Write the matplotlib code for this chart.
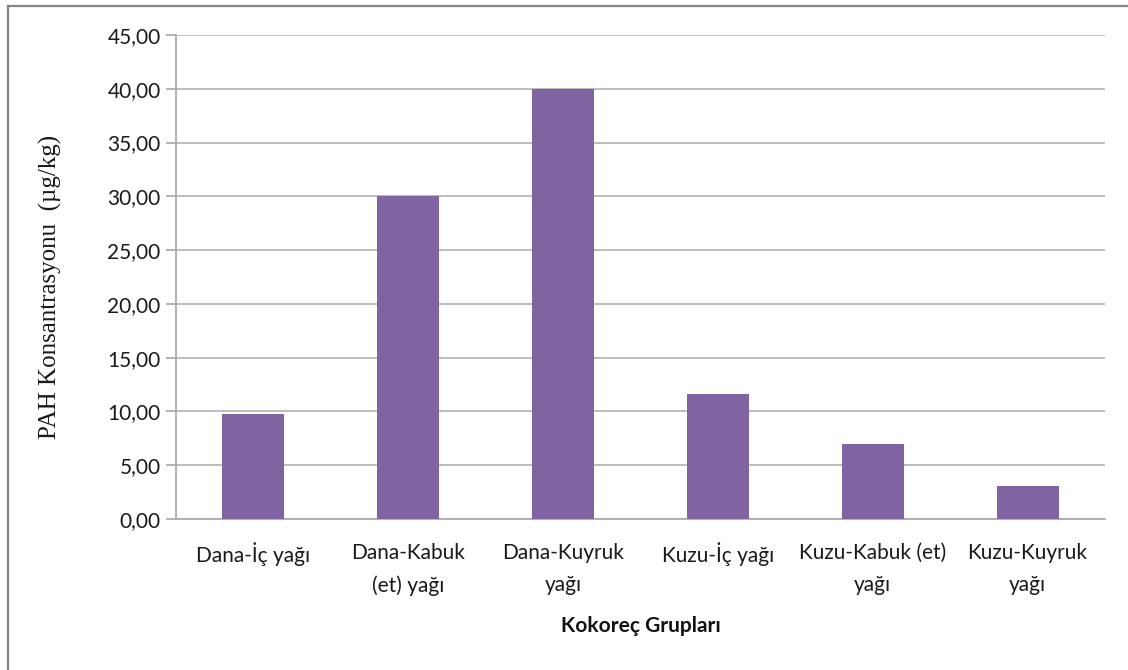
import numpy as np
import matplotlib
matplotlib.use('Agg')
import matplotlib.pyplot as plt
from matplotlib.lines import Line2D
from matplotlib.ticker import FuncFormatter

# -- data

groups = ['Dana-İç yağı', 'Dana-Kabuk\n(et) yağı', 'Dana-Kuyruk\nyağı',
          'Kuzu-İç yağı', 'Kuzu-Kabuk (et)\nyağı', 'Kuzu-Kuyruk\nyağı']
pah = [9.8, 30.0, 40.0, 11.6, 6.95, 3.05]
yticks = np.arange(0, 46, 5)

# -- setup

fig = plt.figure(figsize=(11.28, 6.70), dpi=100)
ax = fig.add_axes([0.156, 0.2254, 0.8236, 0.7224])

x = np.arange(len(groups))
ax.bar(x, pah, width=0.4, color='#8064A2', zorder=3)

ax.set_xlim(-0.5, len(groups) - 0.5)
ax.set_ylim(0, 45)
ax.set_yticks(yticks)
ax.yaxis.set_major_formatter(FuncFormatter(lambda v, p: f'{v:.2f}'.replace('.', ',')))
ax.set_xticks(x)
ax.set_xticklabels(groups, fontsize=15, family='Lato', color='#1a1a1a', linespacing=1.8)

ax.grid(axis='y', color='#b2b2b2', lw=1.2, zorder=0)
for lab in ax.get_yticklabels():
    lab.set_family('Lato')
    lab.set_fontsize(15)
    lab.set_color('#1a1a1a')

ax.tick_params(axis='y', length=7, width=1.2, color='#a6a6a6', pad=4)
ax.tick_params(axis='x', length=0, pad=17)

for side in ['top', 'right']:
    ax.spines[side].set_visible(False)
for side in ['left', 'bottom']:
    ax.spines[side].set_color('#a6a6a6')
    ax.spines[side].set_linewidth(1.2)

ax.set_ylabel('PAH Konsantrasyonu  (µg/kg)', family='Liberation Serif', fontsize=18,
              color='#1a1a1a', labelpad=0)
ax.yaxis.set_label_coords(-0.1227, 0.48)
ax.set_xlabel('Kokoreç Grupları', family='Lato', fontweight='bold', fontsize=15,
              color='#111111')
ax.xaxis.set_label_coords(0.5, -0.2)

# outer frame (only top and left visible)
fig.add_artist(Line2D([8 / 1128, 8 / 1128], [0, 1 - 6 / 670], transform=fig.transFigure,
                      color='#868686', lw=1.6))
fig.add_artist(Line2D([8 / 1128, 1], [1 - 6 / 670, 1 - 6 / 670], transform=fig.transFigure,
                      color='#868686', lw=1.6))

fig.savefig('out.png', dpi=100)
